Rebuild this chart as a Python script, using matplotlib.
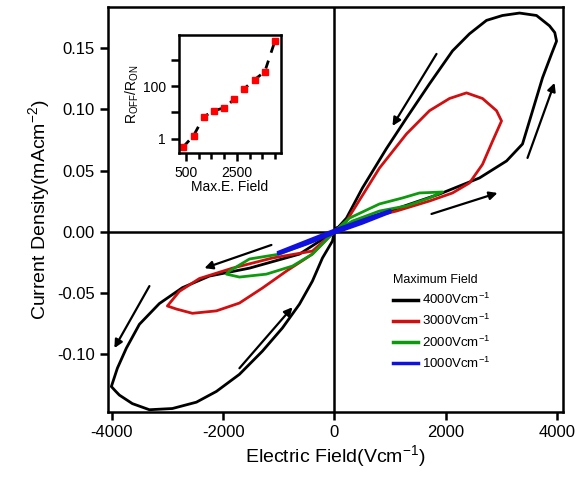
import matplotlib
matplotlib.use('Agg')
from matplotlib import pyplot as plt
from matplotlib.ticker import FixedLocator

plt.rcParams['font.family'] = ['Liberation Sans', 'DejaVu Sans']
plt.rcParams['mathtext.fontset'] = 'custom'
plt.rcParams['mathtext.rm'] = 'Liberation Sans'
plt.rcParams['mathtext.it'] = 'Liberation Sans'
plt.rcParams['mathtext.default'] = 'regular'
plt.rcParams['axes.unicode_minus'] = False

# hysteresis loops, field in V/cm, current density in mA/cm^2
black_e = [0, 36, 989, 1888, 2607, 3093, 3380, 3560, 3740, 3902, 3992, 3960,
           3866, 3632, 3326, 3020, 2733, 2427, 2122, 1708, 1295, 935, 503, 216, 0,
           -629, -1528, -2248, -2733, -3147, -3506, -3740, -3902, -4010,
           -3940, -3866, -3632, -3326, -2913, -2481, -2122, -1708, -1295, -935, -629,
           -396, -216, -36, 0]
black_j = [0, 0.003, 0.0168, 0.0307, 0.0439, 0.0578, 0.0717, 0.0988, 0.126, 0.1455, 0.156, 0.163,
           0.1685, 0.177, 0.179, 0.177, 0.173, 0.162, 0.148, 0.121, 0.093, 0.068, 0.0357, 0.011, 0,
           -0.0185, -0.030, -0.0365, -0.046, -0.059, -0.076, -0.0955, -0.112, -0.127,
           -0.1305, -0.134, -0.141, -0.146, -0.145, -0.1398, -0.131, -0.117, -0.098, -0.079, -0.0595,
           -0.0406, -0.0217, -0.0078, 0]

red_e = [0, 216, 809, 1295, 1708, 2068, 2373, 2661, 2913, 3003,
         2841, 2661, 2427, 2122, 1708, 1115, 503, 0,
         -396, -1115, -1834, -2427, -2787, -3003,
         -2841, -2553, -2122, -1708, -1295, -863, -503, -396, 0]
red_j = [0, 0.0086, 0.052, 0.080, 0.099, 0.109, 0.1136, 0.109, 0.099, 0.0906,
         0.074, 0.055, 0.0398, 0.0316, 0.025, 0.0168, 0.010, 0,
         -0.016, -0.0217, -0.030, -0.0385, -0.049, -0.061,
         -0.0635, -0.067, -0.065, -0.0586, -0.0463, -0.0324, -0.0217, -0.0184, 0]

green_e = [0, 270, 809, 1223, 1528, 1942, 1708, 1295, 809, 324, 0,
           -396, -989, -1528, -1888, -1942, -1708, -1223, -755, -396, 0]
green_j = [0, 0.011, 0.0226, 0.0275, 0.0316, 0.0324, 0.0275, 0.021, 0.0168, 0.0086, 0,
           -0.008, -0.0185, -0.0225, -0.0324, -0.0349, -0.0373, -0.0349, -0.0283, -0.0185, 0]

blue_e = [-1000, -500, 0, 500, 1000, 1000, 500, 0, -500, -1000]
blue_j = [-0.018, -0.010, -0.001, 0.007, 0.016, 0.017, 0.009, 0.001, -0.008, -0.017]

# inset: ratio vs max field
inset_field = [400, 800, 1200, 1600, 2000, 2400, 2800, 3200, 3600, 4000]
inset_ratio = [0.49, 1.3, 6.8, 11.6, 14.8, 31.6, 81, 178, 355, 5250]

# direction arrows (tail, head)
arrows = [((1834, 0.1455), (1043, 0.0865)),
          ((3470, 0.0603), (3956, 0.1218)),
          ((1744, 0.0144), (2931, 0.0316)),
          ((-1133, -0.011), (-2337, -0.030)),
          ((-3326, -0.0447), (-3956, -0.0955)),
          ((-1708, -0.112), (-755, -0.062))]

fig = plt.figure(figsize=(5.82, 4.96), dpi=100)
ax = fig.add_axes([0.1856, 0.169, 0.781, 0.817])

ax.axhline(0, color='black', lw=1.8, zorder=1)
ax.axvline(0, color='black', lw=1.8, zorder=1)

ax.plot(black_e, black_j, color='black', lw=2, label='4000Vcm$^{-1}$', zorder=3)
ax.plot(red_e, red_j, color='#d10f10', lw=2, label='3000Vcm$^{-1}$', zorder=4)
ax.plot(green_e, green_j, color='#0d9b0d', lw=2, label='2000Vcm$^{-1}$', zorder=5)
ax.plot(blue_e, blue_j, color='#1010e0', lw=2.5, label='1000Vcm$^{-1}$', zorder=6)

for tail, head in arrows:
    ax.annotate('', xy=head, xytext=tail,
                arrowprops=dict(arrowstyle='-|>', color='black', lw=1.6,
                                mutation_scale=12, shrinkA=0, shrinkB=0))

ax.set_xlim(-4070, 4100)
ax.set_ylim(-0.148, 0.184)
ax.set_xticks([-4000, -2000, 0, 2000, 4000])
ax.set_yticks([-0.10, -0.05, 0.0, 0.05, 0.10, 0.15])
ax.set_yticklabels(['-0.10', '-0.05', '0.00', '0.05', '0.10', '0.15'])
ax.tick_params(direction='out', length=6, width=1.8, labelsize=12)
for s in ax.spines.values():
    s.set_linewidth(1.8)

ax.set_xlabel('Electric Field(Vcm$^{-1}$)', fontsize=14, labelpad=2)
ax.set_ylabel('Current Density(mAcm$^{-2}$)', fontsize=14, labelpad=4)

leg = ax.legend(loc='upper left', bbox_to_anchor=(0.6, 0.37), frameon=False,
                title='Maximum Field', fontsize=9.5, title_fontsize=9,
                handlelength=1.9, handletextpad=0.3, labelspacing=0.45,
                alignment='left')
for line in leg.get_lines():
    line.set_linewidth(2.5)

# inset
ins = fig.add_axes([0.3076, 0.6915, 0.175, 0.238])
ins.plot(inset_field, inset_ratio, color='black', lw=2, dashes=(3, 3))
ins.plot(inset_field, inset_ratio, 's', color='red', markersize=4.5, ls='none')
ins.set_yscale('log')
ins.set_xlim(225, 4235)
ins.set_ylim(0.28, 9000)
ins.set_xticks([500, 2500])
ins.xaxis.set_minor_locator(FixedLocator([1000, 1500, 2000, 3000, 3500, 4000]))
ins.yaxis.set_major_locator(FixedLocator([1, 10, 100, 1000]))
ins.yaxis.set_minor_locator(FixedLocator([]))
ins.set_yticklabels(['1', '', '100', ''])
ins.tick_params(direction='out', length=6, width=1.8, labelsize=10)
ins.tick_params(which='minor', direction='out', length=4, width=1.8)
for s in ins.spines.values():
    s.set_linewidth(1.8)
ins.set_xlabel('Max.E. Field', fontsize=10, labelpad=0)
ins.set_ylabel('R$_{OFF}$/R$_{ON}$', fontsize=10, labelpad=1)

plt.savefig('out.png', dpi=100)
